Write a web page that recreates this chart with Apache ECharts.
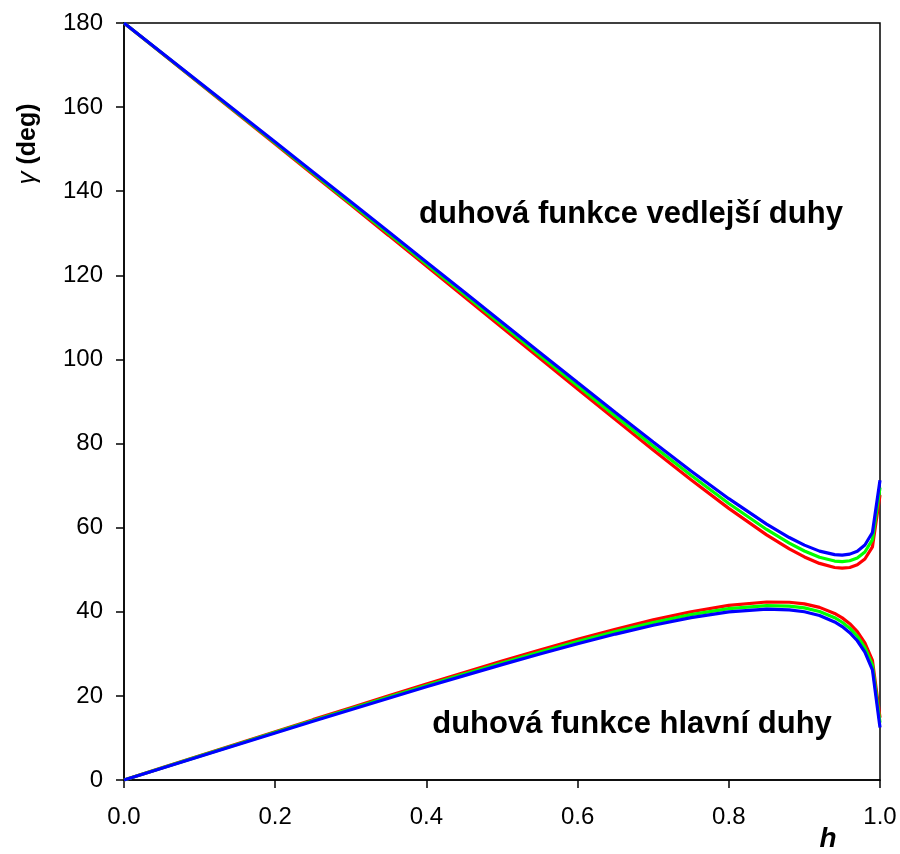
<!DOCTYPE html>
<html><head><meta charset="utf-8">
<script src="https://cdn.jsdelivr.net/npm/echarts@6/dist/echarts.min.js"></script>
<style>html,body{margin:0;padding:0;background:#fff}#c{width:900px;height:854px}</style>
</head><body><div id="c"></div>
<script>
const hValues = [0,0.05,0.1,0.15,0.2,0.25,0.3,0.35,0.4,0.45,0.5,0.55,0.6,0.65,0.7,0.75,0.8,0.85,0.88,0.9,0.92,0.94,0.95,0.96,0.97,0.98,0.99,1.0];
const primaryRed   = [0,2.88,5.76,8.63,11.49,14.35,17.19,20.01,22.80,25.56,28.26,30.89,33.44,35.85,38.07,40.01,41.52,42.33,42.27,41.87,41.05,39.61,38.55,37.16,35.28,32.62,28.44,14.82];
const secondaryRed = [180,172.81,165.62,158.43,151.22,144.00,136.76,129.50,122.22,114.92,107.61,100.29,92.98,85.69,78.47,71.40,64.59,58.29,54.96,53.04,51.50,50.53,50.36,50.53,51.16,52.55,55.44,67.78];
const primaryGreen   = [0,2.84,5.68,8.51,11.34,14.15,16.95,19.73,22.48,25.18,27.84,30.43,32.92,35.27,37.43,39.31,40.75,41.48,41.36,40.93,40.07,38.59,37.51,36.09,34.18,31.50,27.30,13.65];
const secondaryGreen = [180,172.87,165.74,158.60,151.46,144.29,137.11,129.92,122.71,115.48,108.23,100.99,93.75,86.55,79.43,72.45,65.75,59.57,56.31,54.45,52.97,52.06,51.94,52.13,52.79,54.22,57.15,69.53];
const primaryBlue   = [0,2.80,5.60,8.40,11.18,13.96,16.72,19.45,22.16,24.82,27.43,29.97,32.40,34.70,36.80,38.62,39.98,40.64,40.47,40.00,39.10,37.58,36.47,35.03,33.11,30.40,26.18,12.50];
const secondaryBlue = [180,172.93,165.86,158.78,151.69,144.59,137.47,130.34,123.19,116.03,108.85,101.68,94.52,87.41,80.37,73.49,66.89,60.83,57.65,55.85,54.42,53.58,53.48,53.71,54.41,55.87,58.84,71.25];
const xTicks = [0,0.2,0.4,0.6,0.8,1.0];
const yTicks = [0,20,40,60,80,100,120,140,160,180];
const labelSecondary = 'duhová funkce vedlejší duhy';
const labelPrimary = 'duhová funkce hlavní duhy';

const pairs = arr => hValues.map((h,i)=>[h,arr[i]]);
const mk = (arr,color)=>({type:'line',data:pairs(arr),showSymbol:false,symbol:'none',
  lineStyle:{color:color,width:3.2},itemStyle:{color:color},animation:false,z:3});

const chart = echarts.init(document.getElementById('c'),null,{renderer:'canvas'});
const font = '"Liberation Sans", Arial, sans-serif';
chart.setOption({
  animation:false,
  grid:{left:124,top:23,right:20,bottom:74,show:true,borderColor:'#000',borderWidth:1.5,backgroundColor:'transparent'},
  xAxis:{type:'value',min:xTicks[0],max:xTicks[xTicks.length-1],interval:0.2,
    axisLine:{lineStyle:{color:'#000',width:1.5}},
    axisTick:{inside:false,length:8,lineStyle:{color:'#000',width:1.5}},
    splitLine:{show:false},
    axisLabel:{color:'#000',fontSize:24,fontFamily:font,margin:25,formatter:v=>v.toFixed(1)}},
  yAxis:{type:'value',min:yTicks[0],max:yTicks[yTicks.length-1],interval:20,
    axisLine:{lineStyle:{color:'#000',width:1.5}},
    axisTick:{inside:false,length:8,lineStyle:{color:'#000',width:1.5}},
    splitLine:{show:false},
    axisLabel:{color:'#000',fontSize:24,fontFamily:font,margin:21}},
  series:[
    mk(primaryRed,'#ff0000'),mk(secondaryRed,'#ff0000'),
    mk(primaryGreen,'#00ff00'),mk(secondaryGreen,'#00ff00'),
    mk(primaryBlue,'#0000ff'),mk(secondaryBlue,'#0000ff')
  ],
  graphic:[
    {type:'text',x:631,y:214,style:{text:labelSecondary,font:'bold 31px '+font,fill:'#000',textAlign:'center',textVerticalAlign:'middle'}},
    {type:'text',x:632,y:724,style:{text:labelPrimary,font:'bold 31px '+font,fill:'#000',textAlign:'center',textVerticalAlign:'middle'}},
    {type:'text',x:828,y:839,style:{text:'h',font:'italic bold 28px '+font,fill:'#000',textAlign:'center',textVerticalAlign:'middle'}},
    {type:'text',x:28,y:144,rotation:Math.PI/2,
      style:{text:'{g|γ} (deg)',textAlign:'center',textVerticalAlign:'middle',fill:'#000',font:'bold 25px '+font,
        rich:{g:{fontStyle:'italic',fontWeight:'normal',fontSize:26,fontFamily:font,fill:'#000'}}}}
  ]
});
</script></body></html>
